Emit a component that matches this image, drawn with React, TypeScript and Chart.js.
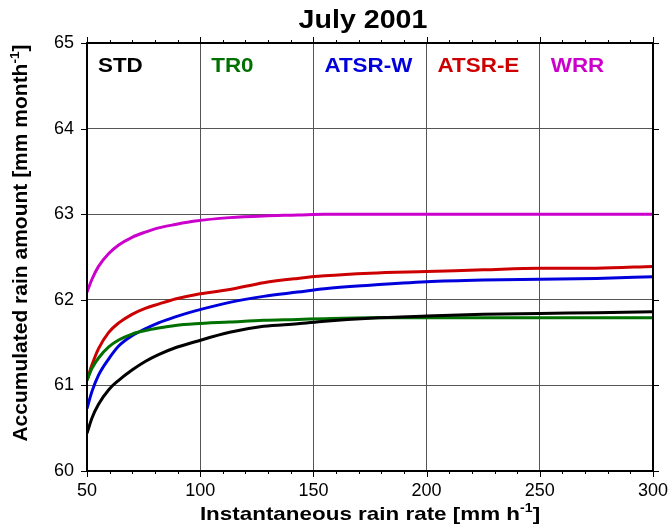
import { useEffect, useRef } from "react";
import { Chart, registerables } from "chart.js";

Chart.register(...registerables);

// ---- data ----
const rainRate = [50, 52.2, 55.1, 59.6, 64, 69.9, 75.7, 81.6, 89, 97.8, 113, 128, 143, 155, 175, 200, 225, 250, 275, 300];
const stdValues = [60.44, 60.62, 60.78, 60.95, 61.06, 61.18, 61.28, 61.36, 61.44, 61.51, 61.62, 61.69, 61.72, 61.75, 61.785, 61.81, 61.83, 61.84, 61.85, 61.86];
const tr0Values = [61.06, 61.2, 61.32, 61.45, 61.53, 61.6, 61.64, 61.67, 61.7, 61.72, 61.74, 61.76, 61.77, 61.78, 61.79, 61.79, 61.79, 61.79, 61.79, 61.79];
const atsrWValues = [60.73, 60.93, 61.12, 61.31, 61.46, 61.58, 61.66, 61.73, 61.8, 61.87, 61.97, 62.04, 62.09, 62.13, 62.17, 62.21, 62.23, 62.24, 62.25, 62.27];
const atsrEValues = [61.06, 61.24, 61.43, 61.62, 61.73, 61.83, 61.9, 61.95, 62.01, 62.06, 62.12, 62.2, 62.25, 62.28, 62.31, 62.33, 62.35, 62.37, 62.37, 62.39];
const wrrValues = [62.09, 62.24, 62.39, 62.54, 62.64, 62.73, 62.79, 62.84, 62.88, 62.92, 62.96, 62.98, 62.99, 63.0, 63.0, 63.0, 63.0, 63.0, 63.0, 63.0];

const seriesNames = ["STD", "TR0", "ATSR-W", "ATSR-E", "WRR"];
const seriesColors = ["#000000", "#007000", "#0000dd", "#cc0000", "#cc00cc"];
const seriesValues = [stdValues, tr0Values, atsrWValues, atsrEValues, wrrValues];
const labelAnchors = [50, 100, 150, 200, 250];

const xMin = 50;
const xMax = 300;
const xMajorStep = 50;
const xMinorStep = 10;
const yMin = 60;
const yMax = 65;
const yStep = 1;

const chartTitle = "July 2001";
const xTitleMain = "Instantaneous rain rate [mm h";
const yTitleMain = "Accumulated rain amount [mm month";
const titleSup = "-1";
const titleEnd = "]";

const FONT = "'Liberation Sans', Arial, Helvetica, sans-serif";

function drawStretched(ctx: CanvasRenderingContext2D, text: string, x: number, y: number, font: string, color: string, stretch: number, align: "left" | "center") {
  ctx.save();
  ctx.font = font;
  ctx.fillStyle = color;
  ctx.textBaseline = "alphabetic";
  ctx.textAlign = "left";
  const w = ctx.measureText(text).width * stretch;
  const sx = align === "center" ? x - w / 2 : x;
  ctx.translate(sx, y);
  ctx.scale(stretch, 1);
  ctx.fillText(text, 0, 0);
  ctx.restore();
}

function drawSupTitle(ctx: CanvasRenderingContext2D, main: string, size: number, supSize: number, stretch: number) {
  const mainFont = `bold ${size}px ${FONT}`;
  const supFont = `bold ${supSize}px ${FONT}`;
  ctx.font = mainFont;
  const w1 = ctx.measureText(main).width;
  const w3 = ctx.measureText(titleEnd).width;
  ctx.font = supFont;
  const w2 = ctx.measureText(titleSup).width;
  const total = (w1 + w2 + w3) * stretch;
  ctx.save();
  ctx.translate(-total / 2, 0);
  ctx.scale(stretch, 1);
  ctx.fillStyle = "#000";
  ctx.textBaseline = "alphabetic";
  ctx.textAlign = "left";
  ctx.font = mainFont;
  ctx.fillText(main, 0, 0);
  ctx.font = supFont;
  ctx.fillText(titleSup, w1, -size * 0.42);
  ctx.font = mainFont;
  ctx.fillText(titleEnd, w1 + w2, 0);
  ctx.restore();
}

const framePlugin = {
  id: "frameAndText",
  afterDraw(chart: any) {
    const { ctx, chartArea, scales } = chart;
    const { left, right, top, bottom } = chartArea;
    const x = scales.x;
    const y = scales.y;
    ctx.save();
    ctx.strokeStyle = "#000";
    ctx.lineWidth = 1;
    ctx.beginPath();
    for (let v = xMin; v <= xMax; v += xMinorStep) {
      const px = Math.round(x.getPixelForValue(v)) + 0.5;
      const len = v % xMajorStep === 0 ? 6 : 3;
      ctx.moveTo(px, bottom);
      ctx.lineTo(px, bottom + len);
      ctx.moveTo(px, top);
      ctx.lineTo(px, top - len);
    }
    for (let v = yMin; v <= yMax; v += yStep) {
      const py = Math.round(y.getPixelForValue(v)) + 0.5;
      ctx.moveTo(left, py);
      ctx.lineTo(left - 6, py);
      ctx.moveTo(right, py);
      ctx.lineTo(right + 6, py);
    }
    ctx.stroke();
    ctx.lineWidth = 2;
    ctx.strokeRect(left, top, right - left, bottom - top);

    // title
    drawStretched(ctx, chartTitle, (left + right) / 2 - 7, 28, `bold 26px ${FONT}`, "#000", 1.1, "center");

    // series labels
    seriesNames.forEach((name, i) => {
      const px = x.getPixelForValue(labelAnchors[i]) + 11;
      drawStretched(ctx, name, px, 72, `bold 20px ${FONT}`, seriesColors[i], 1.12, "left");
    });

    // x title
    ctx.save();
    ctx.translate((left + right) / 2, 520);
    drawSupTitle(ctx, xTitleMain, 19, 12, 1.18);
    ctx.restore();

    // y title
    ctx.save();
    ctx.translate(27, 243);
    ctx.rotate(-Math.PI / 2);
    drawSupTitle(ctx, yTitleMain, 20, 13, 1.05);
    ctx.restore();

    ctx.restore();
  },
};

export default function App() {
  const canvasRef = useRef<HTMLCanvasElement | null>(null);

  useEffect(() => {
    if (!canvasRef.current) return;
    const chart = new Chart(canvasRef.current, {
      type: "line",
      data: {
        labels: rainRate,
        datasets: seriesNames.map((name, i) => ({
          label: name,
          data: rainRate.map((r, j) => ({ x: r, y: seriesValues[i][j] })),
          borderColor: seriesColors[i],
          backgroundColor: seriesColors[i],
          borderWidth: 3,
          pointRadius: 0,
          fill: false,
          cubicInterpolationMode: "monotone" as const,
        })),
      },
      options: {
        responsive: false,
        animation: false,
        devicePixelRatio: 1,
        layout: { padding: { top: 43, right: 19, left: 0, bottom: 0 } },
        plugins: {
          legend: { display: false },
          tooltip: { enabled: false },
          title: { display: false },
        },
        scales: {
          x: {
            type: "linear",
            min: xMin,
            max: xMax,
            afterFit: (s: any) => {
              s.height = 58;
              s.paddingLeft = 0;
              s.paddingRight = 0;
            },
            ticks: {
              stepSize: xMajorStep,
              autoSkip: false,
              maxRotation: 0,
              padding: 9,
              color: "#000",
              font: { family: FONT, size: 18 },
            },
            grid: { color: "#555555", lineWidth: 1, drawTicks: false },
            border: { display: false },
          },
          y: {
            type: "linear",
            min: yMin,
            max: yMax,
            afterFit: (s: any) => {
              s.width = 87;
              s.paddingTop = 0;
              s.paddingBottom = 0;
            },
            ticks: {
              stepSize: yStep,
              padding: 13,
              color: "#000",
              font: { family: FONT, size: 18 },
            },
            grid: { color: "#555555", lineWidth: 1, drawTicks: false },
            border: { display: false },
          },
        },
      },
      plugins: [framePlugin],
    });
    return () => chart.destroy();
  }, []);

  return (
    <div style={{ position: "absolute", left: 0, top: 0, width: 672, height: 529, background: "#fff" }}>
      <canvas ref={canvasRef} width={672} height={529} />
    </div>
  );
}
